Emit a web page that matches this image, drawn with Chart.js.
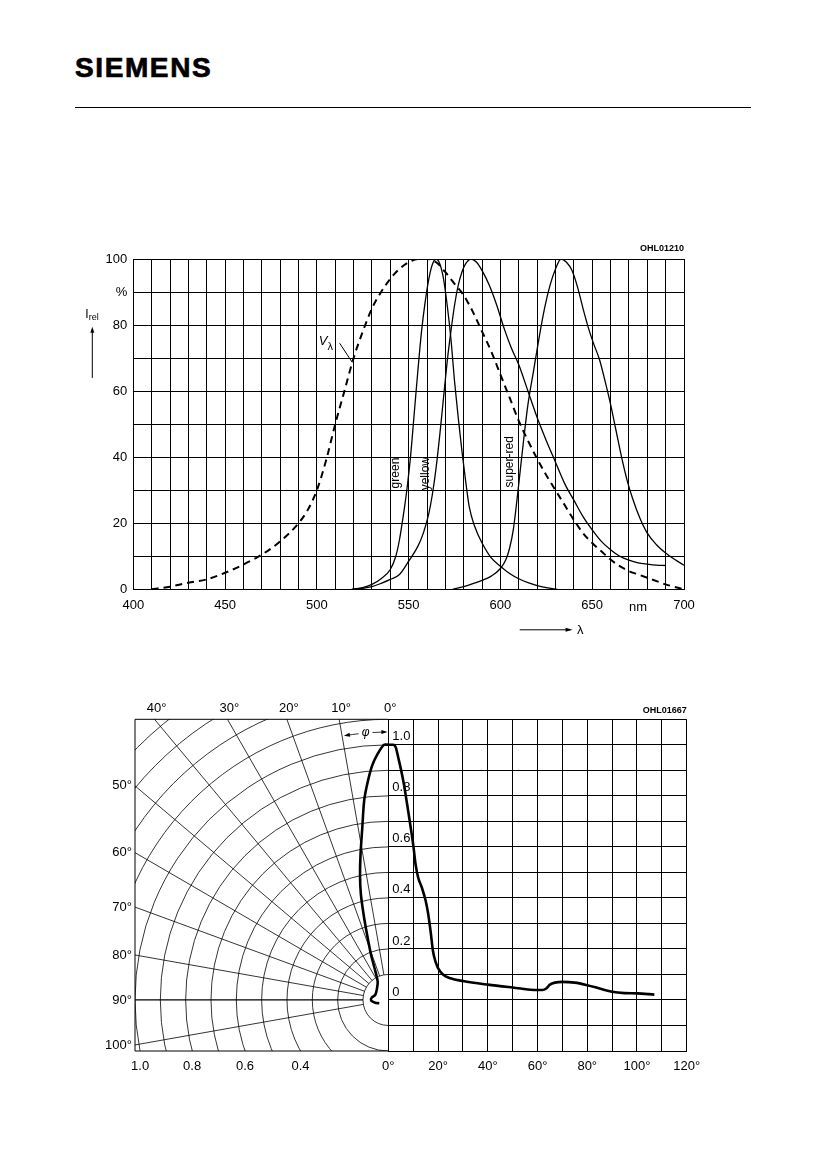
<!DOCTYPE html>
<html>
<head>
<meta charset="utf-8">
<script src="https://cdn.jsdelivr.net/npm/chart.js@4.4.1/dist/chart.umd.min.js"></script>
<style>
  body { margin: 0; background: #fff; }
  #page { position: relative; width: 826px; height: 1169px; overflow: hidden; font-family: 'Liberation Sans', Arial, sans-serif; }
  .logo { position: absolute; left: 75px; top: 54px; font-weight: bold; font-size: 28px; line-height: 28px; letter-spacing: 1.6px; -webkit-text-stroke: 0.7px #000; }
  .rule { position: absolute; left: 75px; top: 107px; width: 676px; height: 1px; background: #000; }
  canvas { position: absolute; }
</style>
</head>
<body>
<div id="page">
  <div class="logo">SIEMENS</div>
  <div class="rule"></div>
  <canvas id="spectral" width="826" height="430" style="left:0;top:230px"></canvas>
  <canvas id="polar" width="400" height="410" style="left:0;top:690px"></canvas>
  <canvas id="radiation" width="440" height="410" style="left:300px;top:690px"></canvas>
</div>
<script>
// relative spectral emission, I_rel in % vs wavelength in nm
const vLambdaNm = [410,420,430,440,450,460,470,480,490,495,500,505,510,515,520,525,530,535,540,545,550,555,560,565,570,575,580,585,590,595,600,605,610,615,620,625,630,635,640,645,650,655,660,665,670,675,680,690,700];
const vLambdaRel = [0,0.8,2,3,5,7.5,10.5,14.5,20,24,30,39,50,60,70,78,85,90,94,97,99,100,100,99,96,92.5,89,84,78,72,65,58,51,45,39.5,34.5,30,25.5,21,17,14,11.5,9,7,5.5,4.5,3.5,1.5,0];

const greenNm = [519,525,530,535,540,543,545,547,549,551,553,555,557,559,561,563,565,567,569,571,573,575,577,579,581,583,586,590,595,600,605,610,615,620,625,631];
const greenRel = [0,0.5,1.5,3.2,6,10,15,22,30,40,53,66,78,87,94,98.5,100,98.5,94,86,76,63,52,42,33,25,19,14,9.5,7,4.8,3.2,2,1.1,0.5,0];

const yellowNm = [519,525,530,535,540,545,550,555,558,561,563,565,567,569,571,573,575,577,579,581,584,587,590,594,598,602,606,610,615,620,625,630,635,640,645,650,655,660,665,670,675,680,685,690];
const yellowRel = [0,0.3,0.8,1.8,3,4.5,8.5,13,17,23,29,37,47,58,69,78,86,92,96,98.5,100,99,96.5,92,86,79,73,68,60,52,45,38.5,32,27,22,18,14.5,12,10,8.8,8,7.6,7.3,7.2];

const superRedNm = [574,580,585,590,595,600,603,605,607,609,611,613,615,618,621,624,627,630,633,636,639,642,645,648,651,654,657,660,663,666,669,672,676,680,685,690,695,700];
const superRedRel = [0,0.8,1.7,2.7,4,6.3,9,12.5,18,27,37,47,56,66,76,85,92,97,100,99,96.5,91.5,85,79,74,69.5,63,56,48,40,33,27.5,21.5,17,13.5,11,9,7.3];

// radiation characteristic, I_rel vs half angle
const radiationDeg = [0,2,3,4,6,8,10,11,12,13.5,15,16,17,18,19,20,22,25,30,40,50,60,62,63.5,65,67,70,75,80,85,90,95,100,107];
const radiationRel = [1.0,1.0,0.99,0.95,0.86,0.74,0.61,0.53,0.48,0.44,0.39,0.34,0.27,0.19,0.15,0.125,0.1,0.085,0.074,0.06,0.049,0.039,0.039,0.045,0.06,0.068,0.071,0.068,0.058,0.045,0.032,0.027,0.026,0.021];

// same lobe in the polar grid (angle from axis, relative intensity)
const polarDeg = [0,1,2.7,4,5.4,6.9,8.7,10.9,12.9,14.6,16.2,18.1,21,24.7,30.3,44,69,81.5,91.7,101.5,110];
const polarRel = [1.0,1.0,0.96,0.92,0.86,0.79,0.68,0.58,0.5,0.43,0.35,0.27,0.19,0.12,0.083,0.064,0.055,0.066,0.068,0.053,0.038];

// polar grid
const ringRadii = [0.1,0.2,0.3,0.4,0.5,0.6,0.7,0.8,0.9,1.0,1.1,1.2,1.3,1.4,1.5];
const spokeDeg = [10,20,30,40,50,60,70,80,90,100];
const topSpokeLabels = [0,10,20,30,40];
const sideSpokeLabels = [50,60,70,80,90,100];
const ringLabels = [1.0,0.8,0.6,0.4];

const FAMILY = "'Liberation Sans', Arial, sans-serif";
Chart.defaults.font.family = FAMILY;
Chart.defaults.font.size = 13;
Chart.defaults.color = '#000';

const toPoints = (xs, ys) => xs.map((v, i) => ({x: v, y: ys[i]}));
const rad = d => d * Math.PI / 180;

function arrowHead(ctx, x, y, ang, len, half) {
  ctx.save();
  ctx.translate(x, y);
  ctx.rotate(ang);
  ctx.beginPath();
  ctx.moveTo(0, 0);
  ctx.lineTo(-len, -half);
  ctx.lineTo(-len, half);
  ctx.closePath();
  ctx.fill();
  ctx.restore();
}

const spectralNotes = {
  id: 'spectralNotes',
  afterDraw(chart) {
    const {ctx, chartArea: a, scales: {x, y}} = chart;
    ctx.save();
    ctx.fillStyle = '#000';
    ctx.strokeStyle = '#000';
    ctx.lineWidth = 1;

    // V lambda tag with leader
    ctx.textAlign = 'left';
    ctx.textBaseline = 'alphabetic';
    ctx.font = 'italic 13px ' + FAMILY;
    ctx.fillText('V', x.getPixelForValue(501), y.getPixelForValue(74));
    ctx.font = '11px ' + FAMILY;
    ctx.fillText('λ', x.getPixelForValue(505.8), y.getPixelForValue(72.3));
    ctx.beginPath();
    ctx.moveTo(x.getPixelForValue(512.4), y.getPixelForValue(74.5));
    ctx.lineTo(x.getPixelForValue(519.3), y.getPixelForValue(68.7));
    ctx.stroke();

    // curve names, written upwards
    ctx.font = '12px ' + FAMILY;
    ctx.textAlign = 'center';
    ctx.textBaseline = 'middle';
    [['green', 543.2, 35.2], ['yellow', 559.2, 35], ['super-red', 605, 38.6]].forEach(([t, nm, v]) => {
      ctx.save();
      ctx.translate(x.getPixelForValue(nm), y.getPixelForValue(v));
      ctx.rotate(-Math.PI / 2);
      ctx.fillText(t, 0, 0);
      ctx.restore();
    });

    // I_rel with arrow
    ctx.textAlign = 'left';
    ctx.textBaseline = 'alphabetic';
    ctx.font = '12px ' + FAMILY;
    ctx.fillText('I', a.left - 48, y.getPixelForValue(82));
    ctx.font = '9px ' + FAMILY;
    ctx.fillText('rel', a.left - 44.5, y.getPixelForValue(81.5));
    const ax = a.left - 41;
    ctx.beginPath();
    ctx.moveTo(ax, y.getPixelForValue(64));
    ctx.lineTo(ax, y.getPixelForValue(78));
    ctx.stroke();
    arrowHead(ctx, ax, y.getPixelForValue(79.5), -Math.PI / 2, 6, 2);

    // unit and lambda arrow
    ctx.font = '13px ' + FAMILY;
    ctx.textAlign = 'center';
    ctx.textBaseline = 'middle';
    ctx.fillText('nm', x.getPixelForValue(675), a.bottom + 18);
    const ly = a.bottom + 40.5;
    ctx.beginPath();
    ctx.moveTo(x.getPixelForValue(610.5), ly);
    ctx.lineTo(x.getPixelForValue(638), ly);
    ctx.stroke();
    arrowHead(ctx, x.getPixelForValue(639.3), ly, 0, 7, 2);
    ctx.fillText('λ', x.getPixelForValue(643.5), ly + 1);

    // drawing number
    ctx.font = 'bold 9px ' + FAMILY;
    ctx.textAlign = 'right';
    ctx.fillText('OHL01210', a.right, a.top - 10);
    ctx.restore();
  }
};

new Chart(document.getElementById('spectral'), {
  type: 'scatter',
  data: {
    datasets: [
      {label: 'V\u03bb', data: toPoints(vLambdaNm, vLambdaRel), borderDash: [7, 5], borderWidth: 2},
      {label: 'green', data: toPoints(greenNm, greenRel), borderWidth: 1.3},
      {label: 'yellow', data: toPoints(yellowNm, yellowRel), borderWidth: 1.3},
      {label: 'super-red', data: toPoints(superRedNm, superRedRel), borderWidth: 1.3}
    ].map(d => Object.assign({
      showLine: true, borderColor: '#000', pointRadius: 0, cubicInterpolationMode: 'monotone'
    }, d))
  },
  options: {
    responsive: false,
    animation: false,
    events: [],
    layout: {padding: {left: 93.3, right: 142, top: 29, bottom: 40.7}},
    plugins: {legend: {display: false}, tooltip: {enabled: false}},
    scales: {
      x: {
        type: 'linear', min: 400, max: 700,
        grid: {color: '#000', lineWidth: 1, drawTicks: false},
        border: {color: '#000'},
        ticks: {stepSize: 10, autoSkip: false, maxRotation: 0, padding: 8,
          callback: v => v % 50 === 0 ? String(v) : ''},
        afterFit: s => { s.height = 30; }
      },
      y: {
        type: 'linear', min: 0, max: 100,
        grid: {color: '#000', lineWidth: 1, drawTicks: false},
        border: {color: '#000'},
        ticks: {stepSize: 10, autoSkip: false, padding: 6,
          callback: v => v % 20 === 0 ? String(v) : (v === 90 ? '%' : '')},
        afterFit: s => { s.width = 40; }
      }
    }
  },
  plugins: [spectralNotes]
});

const polarGrid = {
  id: 'polarGrid',
  beforeDatasetsDraw(chart) {
    const {ctx, chartArea: a, scales: {x, y}} = chart;
    const cx = x.getPixelForValue(0), cy = y.getPixelForValue(0);
    const kx = cx - x.getPixelForValue(-1), ky = cy - y.getPixelForValue(1);
    ctx.save();
    ctx.beginPath();
    ctx.rect(a.left, a.top, a.right - a.left, a.bottom - a.top);
    ctx.clip();
    ctx.strokeStyle = '#000';
    ctx.lineWidth = 0.8;
    ringRadii.forEach(r => {
      ctx.beginPath();
      ctx.ellipse(cx, cy, r * kx, r * ky, 0, -Math.PI / 2, Math.PI / 2, true);
      ctx.stroke();
    });
    spokeDeg.forEach(d => {
      const t = rad(d);
      ctx.lineWidth = d === 90 ? 1.2 : 0.8;
      ctx.beginPath();
      ctx.moveTo(x.getPixelForValue(-0.1 * Math.sin(t)), y.getPixelForValue(0.1 * Math.cos(t)));
      ctx.lineTo(x.getPixelForValue(-2 * Math.sin(t)), y.getPixelForValue(2 * Math.cos(t)));
      ctx.stroke();
    });
    ctx.restore();

    ctx.save();
    ctx.strokeStyle = '#000';
    ctx.lineWidth = 1;
    ctx.beginPath();
    ctx.moveTo(a.right, a.top);
    ctx.lineTo(a.left, a.top);
    ctx.lineTo(a.left, a.bottom);
    ctx.lineTo(a.right, a.bottom);
    ctx.stroke();
    ctx.restore();
  },
  afterDraw(chart) {
    const {ctx, chartArea: a, scales: {x, y}} = chart;
    ctx.save();
    ctx.fillStyle = '#000';
    ctx.strokeStyle = '#000';
    ctx.font = '13px ' + FAMILY;
    ctx.textBaseline = 'middle';
    ctx.textAlign = 'center';
    topSpokeLabels.forEach(d => {
      ctx.fillText(d + '°', x.getPixelForValue(-y.max * Math.tan(rad(d))) + 2, a.top - 11);
    });
    ctx.textAlign = 'right';
    sideSpokeLabels.forEach(d => {
      ctx.fillText(d + '°', a.left - 3, y.getPixelForValue(-x.min / Math.tan(rad(d))));
    });

    // angle marker phi
    const cx = x.getPixelForValue(0), cy = y.getPixelForValue(0);
    const kx = cx - x.getPixelForValue(-1), ky = cy - y.getPixelForValue(1);
    const r = 1.05;
    const at = d => [cx - r * kx * Math.sin(rad(d)), cy - r * ky * Math.cos(rad(d))];
    ctx.lineWidth = 0.8;
    [[9.2, 6.4], [3.4, 0.6]].forEach(([d1, d2]) => {
      ctx.beginPath();
      ctx.ellipse(cx, cy, r * kx, r * ky, 0, -Math.PI / 2 - rad(d1), -Math.PI / 2 - rad(d2));
      ctx.stroke();
    });
    const [lx, ly] = at(9.6);
    arrowHead(ctx, lx, ly, Math.PI - rad(9.6), 6, 2);
    const [rx, ry] = at(0.2);
    arrowHead(ctx, rx, ry, -rad(0.2), 6, 2);
    const [px, py] = at(4.9);
    ctx.font = 'italic 12px ' + FAMILY;
    ctx.textAlign = 'center';
    ctx.fillText('φ', px, py);
    ctx.restore();
  }
};

new Chart(document.getElementById('polar'), {
  type: 'scatter',
  data: {
    datasets: [{
      label: 'polar',
      data: polarDeg.map((d, i) => ({x: -polarRel[i] * Math.sin(rad(d)), y: polarRel[i] * Math.cos(rad(d))})),
      showLine: true, borderColor: '#000', borderWidth: 2.6, pointRadius: 0, tension: 0.3
    }]
  },
  options: {
    responsive: false,
    animation: false,
    events: [],
    layout: {padding: {left: 135, right: 11.7, top: 29.3, bottom: 19}},
    plugins: {legend: {display: false}, tooltip: {enabled: false}},
    scales: {
      x: {
        type: 'linear', min: -1.0, max: 0,
        grid: {display: false, drawTicks: false},
        border: {display: false},
        afterBuildTicks: s => { s.ticks = ringLabels.map(r => ({value: -Math.sqrt(r * r - 0.04)})); },
        ticks: {autoSkip: false, maxRotation: 0, padding: 8,
          callback: v => Math.sqrt(v * v + 0.04).toFixed(1)},
        afterFit: s => { s.height = 30; }
      },
      y: {type: 'linear', min: -0.2, max: 1.1, display: false}
    }
  },
  plugins: [polarGrid]
});

const radiationNotes = {
  id: 'radiationNotes',
  afterDraw(chart) {
    const {ctx, chartArea: a} = chart;
    ctx.save();
    ctx.fillStyle = '#000';
    ctx.font = 'bold 9px ' + FAMILY;
    ctx.textAlign = 'right';
    ctx.textBaseline = 'middle';
    ctx.fillText('OHL01667', a.right, a.top - 9);
    ctx.restore();
  }
};

new Chart(document.getElementById('radiation'), {
  type: 'scatter',
  data: {
    datasets: [{
      label: 'I_rel',
      data: toPoints(radiationDeg, radiationRel),
      showLine: true, borderColor: '#000', borderWidth: 2.6, pointRadius: 0, cubicInterpolationMode: 'monotone'
    }]
  },
  options: {
    responsive: false,
    animation: false,
    events: [],
    layout: {padding: {left: 88.3, right: 53.3, top: 29.3, bottom: 19}},
    plugins: {legend: {display: false}, tooltip: {enabled: false}},
    scales: {
      x: {
        type: 'linear', min: 0, max: 120,
        grid: {color: '#000', lineWidth: 1, drawTicks: false},
        border: {color: '#000'},
        ticks: {stepSize: 10, autoSkip: false, maxRotation: 0, padding: 8,
          callback: v => v % 20 === 0 ? v + '°' : ''},
        afterFit: s => { s.height = 30; }
      },
      y: {
        type: 'linear', min: -0.2, max: 1.1,
        grid: {color: '#000', lineWidth: 1, drawTicks: false},
        border: {color: '#000'},
        ticks: {stepSize: 0.1, autoSkip: false, mirror: true, padding: 4, labelOffset: -8,
          callback: v => {
            const k = Math.round(v * 10);
            return (k >= 0 && k <= 10 && k % 2 === 0) ? (k === 0 ? '0' : (k / 10).toFixed(1)) : '';
          }},
        afterFit: s => { s.width = 0; }
      }
    }
  },
  plugins: [radiationNotes]
});
</script>
</body>
</html>
